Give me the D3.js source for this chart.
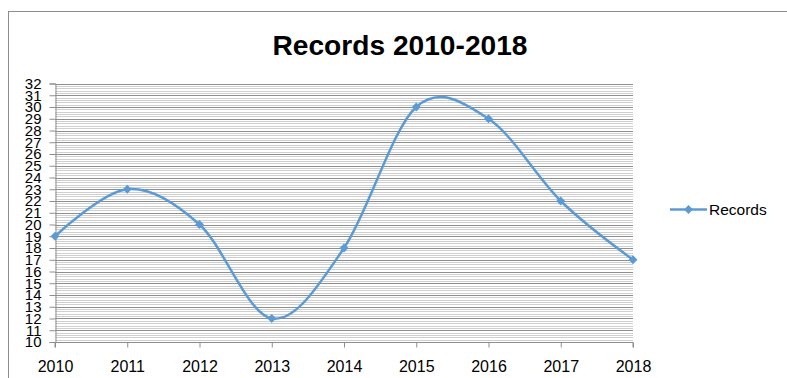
<!DOCTYPE html>
<html>
<head>
<meta charset="utf-8">
<script src="https://cdn.jsdelivr.net/npm/d3@7"></script>
<style>
  html, body { margin: 0; padding: 0; background: #fff; }
  svg { display: block; }
  text { font-family: "Liberation Sans", Arial, sans-serif; fill: #000; }
</style>
</head>
<body>
<svg id="chart" width="787" height="378"></svg>
<script>
// Yearly record counts
const years = [2010, 2011, 2012, 2013, 2014, 2015, 2016, 2017, 2018];
const records = [19, 23, 20, 12, 18, 30, 29, 22, 17];
const yTicks = d3.range(10, 33, 1);
const seriesName = "Records";
const chartTitle = "Records 2010-2018";

const svg = d3.select("#chart");
const plot = { left: 55, right: 633, top: 83.5, bottom: 342 };

// outer chart border
svg.append("rect")
  .attr("x", 8.5).attr("y", 11.5)
  .attr("width", 790).attr("height", 400)
  .attr("fill", "none").attr("stroke", "#8c8c8c").attr("stroke-width", 1);

const x = d3.scalePoint().domain(years).range([plot.left, plot.right]);
const y = d3.scaleLinear().domain([10, 32]).range([plot.bottom, plot.top]);

// minor gridlines every 0.2
const minor = d3.range(10, 32.001, 0.2).filter(v => Math.abs(v - Math.round(v)) > 1e-6);
svg.append("g").selectAll("line").data(minor).join("line")
  .attr("x1", plot.left).attr("x2", plot.right)
  .attr("y1", d => Math.round(y(d)) + 0.5).attr("y2", d => Math.round(y(d)) + 0.5)
  .attr("stroke", "#cfcfcf").attr("stroke-width", 1);

// major gridlines each unit
svg.append("g").selectAll("line").data(yTicks.filter(v => v > 10)).join("line")
  .attr("x1", plot.left).attr("x2", plot.right)
  .attr("y1", d => Math.round(y(d)) + 0.5).attr("y2", d => Math.round(y(d)) + 0.5)
  .attr("stroke", "#8e8e8e").attr("stroke-width", 1);

// y axis
const yAxis = svg.append("g")
  .attr("transform", `translate(${plot.left + 0.5},0)`)
  .call(d3.axisLeft(y).tickValues(yTicks).tickSize(6).tickPadding(8).tickFormat(d3.format("d")));
yAxis.select(".domain").attr("stroke", "#8e8e8e");
yAxis.selectAll(".tick line").attr("stroke", "#8e8e8e");
yAxis.selectAll(".tick text")
  .attr("font-size", 15).attr("font-family", "Liberation Sans, Arial, sans-serif")
  .attr("fill", "#000");

// x axis
const xAxis = svg.append("g")
  .attr("transform", `translate(0,${plot.bottom + 0.5})`)
  .call(d3.axisBottom(x).tickSize(5).tickPadding(13).tickFormat(d3.format("d")));
xAxis.select(".domain").attr("stroke", "#8e8e8e").attr("d", `M${plot.left},5V0H${plot.right}V5`);
xAxis.selectAll(".tick line").attr("stroke", "#8e8e8e");
xAxis.selectAll(".tick text")
  .attr("font-size", 16).attr("font-family", "Liberation Sans, Arial, sans-serif")
  .attr("fill", "#000");

// smoothed series line
const pts = years.map((yr, i) => [x(yr), y(records[i])]);
const line = d3.line().curve(d3.curveCardinal.tension(0));
svg.append("path")
  .attr("d", line(pts))
  .attr("fill", "none").attr("stroke", "#5b9bd5").attr("stroke-width", 2.5)
  .attr("stroke-linecap", "round");

// diamond markers
const diamond = d3.symbol().type(d3.symbolDiamond2).size(50);
svg.append("g").selectAll("path").data(pts).join("path")
  .attr("transform", d => `translate(${d[0]},${d[1]})`)
  .attr("d", diamond)
  .attr("fill", "#5b9bd5");

// title
svg.append("text")
  .attr("x", 400).attr("y", 55)
  .attr("text-anchor", "middle")
  .attr("font-size", 28).attr("font-weight", "bold")
  .attr("textLength", 255).attr("lengthAdjust", "spacingAndGlyphs")
  .text(chartTitle);

// legend
const lg = svg.append("g").attr("transform", "translate(670,209.5)");
lg.append("line").attr("x1", 0).attr("x2", 37).attr("y1", 0).attr("y2", 0)
  .attr("stroke", "#5b9bd5").attr("stroke-width", 2.5);
lg.append("path").attr("transform", "translate(18.5,0)").attr("d", diamond).attr("fill", "#5b9bd5");
lg.append("text").attr("x", 39).attr("y", 5.5).attr("font-size", 15.5).text(seriesName);
</script>
</body>
</html>
